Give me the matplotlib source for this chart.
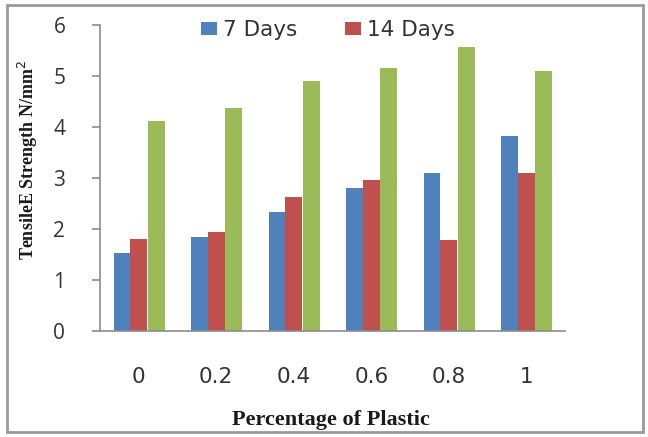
import matplotlib.pyplot as plt
from matplotlib.patches import Rectangle
import numpy as np

# data
plastic_pct = ['0', '0.2', '0.4', '0.6', '0.8', '1']
days7 = [1.53, 1.84, 2.33, 2.80, 3.10, 3.82]
days14 = [1.80, 1.94, 2.63, 2.96, 1.78, 3.10]
days28 = [4.12, 4.37, 4.90, 5.16, 5.57, 5.10]

blue = '#4F81BD'
red = '#C0504D'
green = '#9BBB59'

fig = plt.figure(figsize=(6.48, 4.37), dpi=100)
ax = fig.add_axes([100 / 648, 1 - 331 / 437, 465 / 648, 306 / 437])

x = np.arange(len(plastic_pct))
w = 0.215
ax.bar(x - w, days7, w, color=blue, label='7 Days')
ax.bar(x, days14, w, color=red, label='14 Days')
ax.bar(x + w + 0.01, days28, w, color=green)

ax.set_xlim(-0.5, 5.5)
ax.set_ylim(0, 6)
ax.set_xticks(x)
ax.set_xticklabels(plastic_pct)
ax.set_yticks(range(7))

for s in ['top', 'right']:
    ax.spines[s].set_visible(False)
for s in ['left', 'bottom']:
    ax.spines[s].set_color('#8C8C8C')
    ax.spines[s].set_linewidth(1.2)

ax.tick_params(axis='y', length=6, width=1.2, color='#8C8C8C', pad=19,
               labelsize=15, labelcolor='#333333')
ax.tick_params(axis='x', length=0, pad=26, labelsize=15.5, labelcolor='#333333')
for lbl in ax.get_yticklabels():
    lbl.set_family('Open Sans')
for lbl in ax.get_xticklabels():
    lbl.set_family('DejaVu Sans')

fig.text(331 / 648, 1 - 425 / 437, 'Percentage of Plastic', ha='center', va='baseline',
         family='Liberation Serif', fontweight='bold', fontsize=16, color='#1a1a1a')
fig.text(28 / 648, 1 - 160 / 437, 'TensileE Strength N/mm$^2$', ha='center', va='center',
         rotation=90, family='Liberation Serif', fontweight='bold', fontsize=13,
         color='#1a1a1a')

fig.legend(loc='center', bbox_to_anchor=(328 / 648, 1 - 30 / 437), ncol=2,
           frameon=False, handlelength=0.75, handleheight=0.6,
           handletextpad=0.3, columnspacing=2.2,
           prop={'family': 'DejaVu Sans', 'size': 15.5}, labelcolor='#333333')

# chart area border
fig.patches.append(Rectangle((7 / 648, 5 / 437), 636 / 648, 427 / 437, transform=fig.transFigure,
                             fill=False, edgecolor='#9A9A9A', linewidth=2))

fig.savefig('out.png', dpi=100)
